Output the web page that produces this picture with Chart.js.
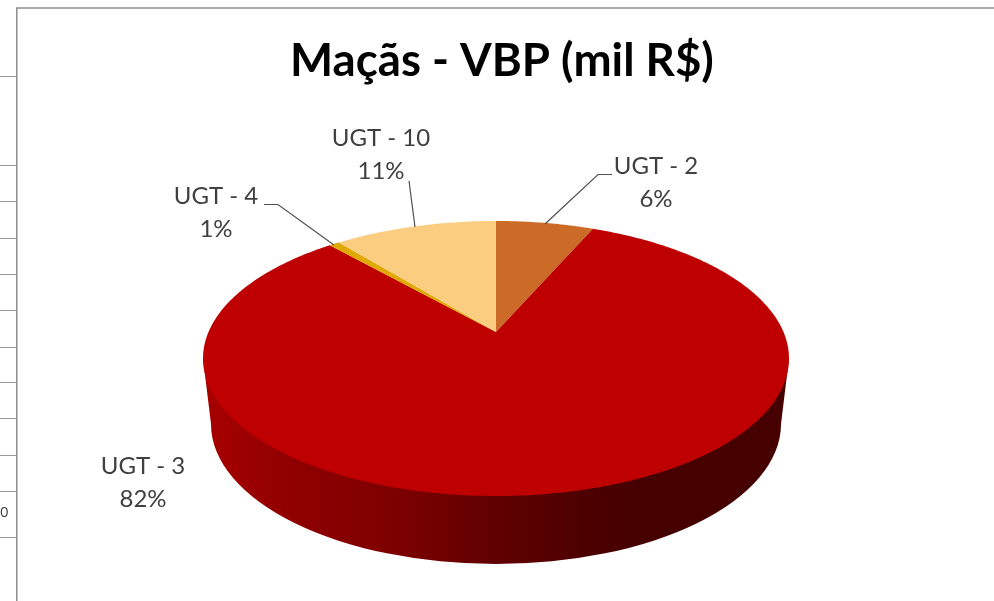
<!DOCTYPE html>
<html><head><meta charset="utf-8">
<style>html,body{margin:0;padding:0;background:#fff}canvas{display:block}</style>
<script src="https://cdn.jsdelivr.net/npm/chart.js@4"></script>
</head><body>
<div style="position:relative;width:994px;height:601px"><canvas id="c" width="994" height="601"></canvas></div>
<script>
const titleText = 'Maçãs - VBP (mil R$)';
const categories = ['UGT - 2', 'UGT - 3', 'UGT - 4', 'UGT - 10'];
const shares = [6.49, 82.0, 0.7, 10.81];
const sliceColors = ['#CC6A28', '#BE0000', '#E0A800', '#FBCD80'];

// Perspective disc geometry (layout only)
const DISC = {cx: 496, cy: 332, a: 287.5, b: 132.4, k: 0.1927};
const WALL = {cy: 424, rx: 285, ry: 140, topY: 358.5, topRx: 293};
const project = (ang) => {
  const u = Math.cos(ang), v = Math.sin(ang), w = 1 - DISC.k * v;
  return [DISC.cx + DISC.a * u / w, DISC.cy + DISC.b * v / w];
};
const LABEL_LAYOUT = [
  {x: 656, y: 166, gap: 33, line: [[545,224],[598,174.5],[612,174.5]]},
  {x: 143, y: 466, gap: 33, line: null},
  {x: 216, y: 196, gap: 33, line: [[334,245],[278,204.5],[264,204.5]]},
  {x: 381, y: 138.5, gap: 33, line: [[415,227],[409,181]]}
];
const STUBS = [76,165,201,238,274,310,347,382,418,455,491,537];

const framePlugin = {
  id: 'frame',
  beforeDraw(chart) {
    const c = chart.ctx;
    c.save();
    c.fillStyle = '#fff'; c.fillRect(0,0,994,601);
    c.strokeStyle = '#9a9a9a'; c.lineWidth = 1;
    STUBS.forEach(y => { c.beginPath(); c.moveTo(0,y+.5); c.lineTo(16,y+.5); c.stroke(); });
    c.strokeStyle = '#8c8c8c'; c.lineWidth = 1.5;
    c.beginPath(); c.moveTo(16.8,601); c.lineTo(16.8,8); c.lineTo(994,8); c.stroke();
    c.fillStyle = '#404040'; c.font = '15px "Open Sans"'; c.textAlign='left'; c.textBaseline='middle';
    c.fillText('0', 0, 513);
    c.restore();
  }
};

const disc3dPlugin = {
  id: 'disc3d',
  beforeDatasetsDraw(chart) {
    const c = chart.ctx, arcs = chart.getDatasetMeta(0).data;
    c.save();
    // side wall
    const g = c.createLinearGradient(203,0,789,0);
    [[203,'#A80000'],[290,'#900000'],[400,'#7C0000'],[496,'#600000'],[600,'#4A0000'],[650,'#460000'],[789,'#460000']]
      .forEach(([x,col]) => g.addColorStop((x-203)/586, col));
    c.fillStyle = g;
    c.beginPath();
    c.moveTo(DISC.cx-WALL.topRx, WALL.topY);
    c.lineTo(DISC.cx-WALL.rx, WALL.cy);
    c.ellipse(DISC.cx, WALL.cy, WALL.rx, WALL.ry, 0, Math.PI, 0, true);
    c.lineTo(DISC.cx+WALL.topRx, WALL.topY);
    c.closePath(); c.fill();
    // top face: slices use the angles computed by the library
    arcs.forEach((arc, i) => {
      const {startAngle, endAngle} = arc.getProps(['startAngle','endAngle'], true);
      c.fillStyle = sliceColors[i];
      c.beginPath(); c.moveTo(DISC.cx, DISC.cy);
      const n = Math.max(4, Math.ceil((endAngle-startAngle)*80));
      for (let s = 0; s <= n; s++) {
        const p = project(startAngle + (endAngle-startAngle)*s/n);
        c.lineTo(p[0], p[1]);
      }
      c.closePath(); c.fill();
    });
    c.restore();
    return false;
  },
  afterDraw(chart) {
    const c = chart.ctx;
    const total = shares.reduce((a,b)=>a+b,0);
    c.save();
    c.font = '24px Lato'; c.fillStyle = '#404040';
    c.textAlign = 'center'; c.textBaseline = 'middle';
    c.strokeStyle = '#505050'; c.lineWidth = 1.2;
    categories.forEach((name, i) => {
      const L = LABEL_LAYOUT[i];
      c.fillText(name, L.x, L.y);
      c.fillText(Math.round(shares[i]/total*100) + '%', L.x, L.y + L.gap);
      if (L.line) {
        c.beginPath();
        L.line.forEach((p, j) => j ? c.lineTo(p[0],p[1]) : c.moveTo(p[0],p[1]));
        c.stroke();
      }
    });
    c.restore();
  }
};

new Chart(document.getElementById('c'), {
  type: 'pie',
  data: { labels: categories, datasets: [{ data: shares, backgroundColor: sliceColors, borderWidth: 0 }] },
  options: {
    responsive: false, animation: false,
    layout: { padding: { left: 10 } },
    plugins: {
      legend: { display: false }, tooltip: { enabled: false },
      title: { display: true, text: titleText, color: '#000',
        font: { family: 'Lato', size: 45.6, weight: 'bold' }, padding: { top: 34, bottom: 10 } }
    }
  },
  plugins: [framePlugin, disc3dPlugin]
});
</script>
</body></html>
